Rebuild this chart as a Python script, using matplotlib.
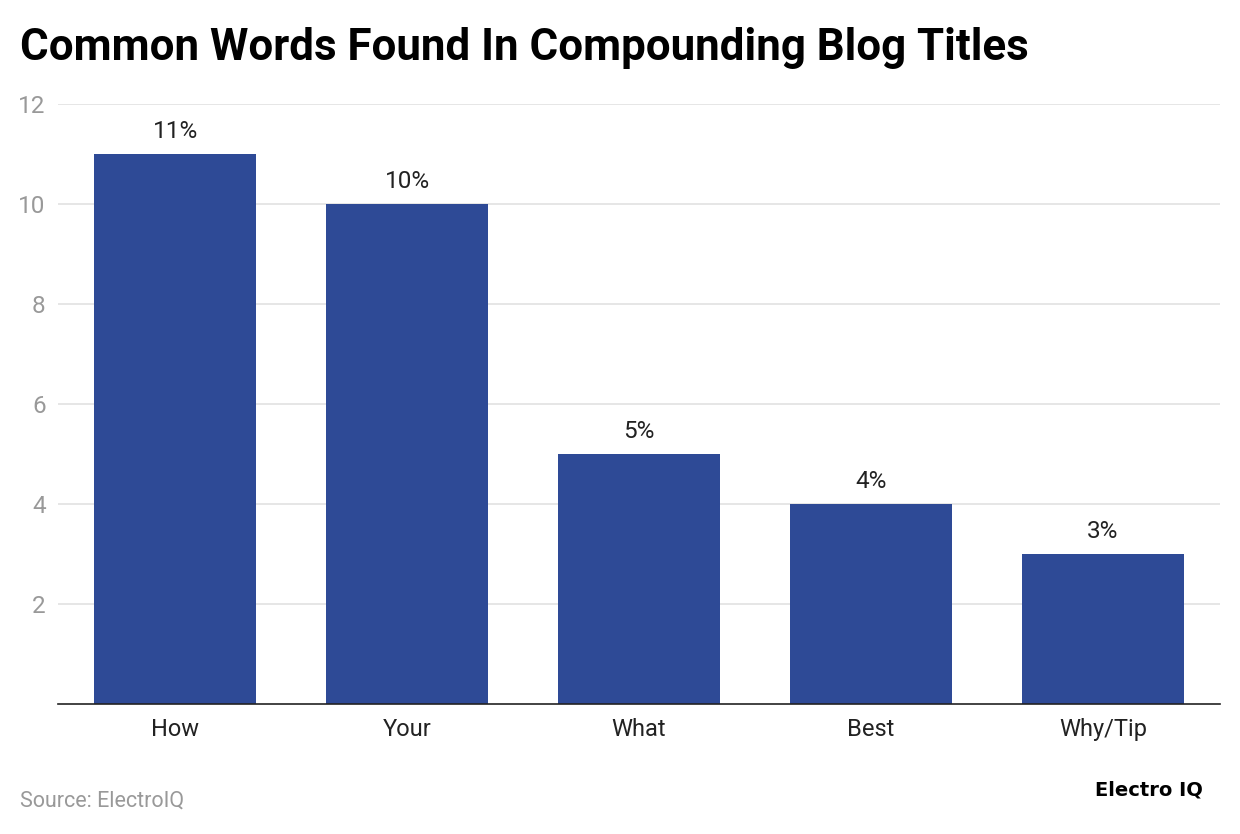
import matplotlib.pyplot as plt

# Chart data
words = ['How', 'Your', 'What', 'Best', 'Why/Tip']
shares = [11, 10, 5, 4, 3]
yticks = [2, 4, 6, 8, 10, 12]

plt.rcParams['font.family'] = ['Roboto', 'DejaVu Sans']

fig = plt.figure(figsize=(12.4, 8.34), dpi=100)
ax = fig.add_axes([0.0468, 0.1559, 0.9371, 0.7194])

bars = ax.bar(range(len(words)), shares, width=0.70, color='#2e4a96', zorder=3)
for i, v in enumerate(shares):
    ax.text(i, v + 0.32, f'{v}%', ha='center', va='baseline', fontsize=17.5, color='#222222')

ax.set_xlim(-0.505, len(words) - 0.495)
ax.set_ylim(0, 12)
ax.set_yticks(yticks)
ax.set_xticks(range(len(words)))
ax.set_xticklabels(words)
ax.grid(axis='y', color='#e2e2e2', linewidth=1.2, zorder=0)
ax.tick_params(axis='y', length=0, labelsize=17.5, labelcolor='#999999', pad=9)
ax.tick_params(axis='x', length=0, labelsize=17, labelcolor='#222222', pad=10)
for s in ['top', 'right', 'left']:
    ax.spines[s].set_visible(False)
ax.spines['bottom'].set_color('#222222')
ax.spines['bottom'].set_linewidth(1.2)
ax.spines['bottom'].set_zorder(4)

fig.text(0.016, 0.943, 'Common Words Found In Compounding Blog Titles',
         fontsize=31.6, fontweight='bold', ha='left', va='center', color='black')
fig.text(0.016, 0.04, 'Source: ElectroIQ', fontsize=15.5, color='#999999', ha='left', va='center')
fig.text(0.97, 0.053, 'Electro IQ', fontsize=14, fontweight='bold', ha='right', va='center',
         family=['DejaVu Sans'], color='black')

fig.savefig('out.png', dpi=100)
